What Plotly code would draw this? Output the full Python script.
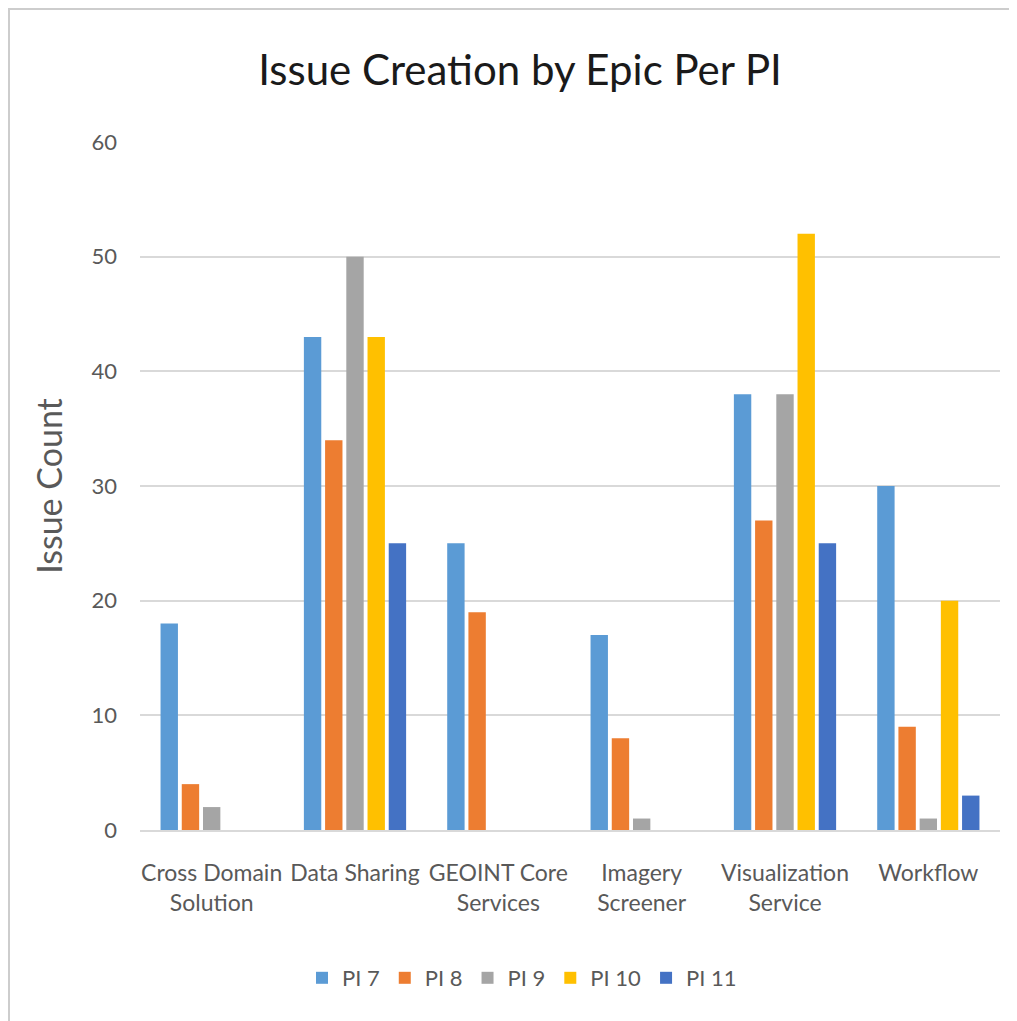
import plotly.graph_objects as go

categories = ["Cross Domain<br>Solution", "Data Sharing", "GEOINT Core<br>Services",
              "Imagery<br>Screener", "Visualization<br>Service", "Workflow"]
series_names = ["PI 7", "PI 8", "PI 9", "PI 10", "PI 11"]
pi7 = [18, 43, 25, 17, 38, 30]
pi8 = [4, 34, 19, 8, 27, 9]
pi9 = [2, 50, 0, 1, 38, 1]
pi10 = [0, 43, 0, 0, 52, 20]
pi11 = [0, 25, 0, 0, 25, 3]
series_values = [pi7, pi8, pi9, pi10, pi11]
colors = ["#5B9BD5", "#ED7D31", "#A5A5A5", "#FFC000", "#4472C4"]
y_ticks = [0, 10, 20, 30, 40, 50, 60]

# page is offset by the default 8px body margin
OFF = 8
W, H = 1017 - OFF, 1021 - OFF
L, T = 140 - OFF, 142 - OFF
R = W - (1000 - OFF)
B = H - (830 - OFF)
pw, ph = W - L - R, H - T - B

def px_x(p):  # page pixel -> paper x
    return (p - OFF - L) / pw

def px_y(p):  # page pixel -> paper y
    return 1 - (p - OFF - T) / ph

FONT = "Lato"

fig = go.Figure()
for name, vals, c in zip(series_names, series_values, colors):
    fig.add_trace(go.Bar(x=categories, y=vals, name=name, marker=dict(color=c, line=dict(width=0))))

fig.update_layout(
    width=W, height=H,
    margin=dict(l=L, r=R, t=T, b=B, autoexpand=False),
    paper_bgcolor="#FFFFFF",
    plot_bgcolor="rgba(0,0,0,0)",
    barmode="group", bargap=0.26, bargroupgap=0.18,
    font=dict(family=FONT, color="#595959"),
    title=dict(text="Issue Creation by Epic Per PI", x=(520 - OFF) / W, y=1 - (70 - OFF) / H,
               xref="container", yref="container", xanchor="center", yanchor="middle",
               font=dict(family=FONT, size=42, color="#1a1a1a")),
    xaxis=dict(showgrid=False, showline=True, linecolor="#D9D9D9", linewidth=1.5,
               tickfont=dict(size=23, color="#595959"), ticks="", ticklabelstandoff=22),
    yaxis=dict(range=[0, 60], tickvals=y_ticks, showgrid=True, gridcolor="#D9D9D9", gridwidth=1.5,
               zeroline=False, showline=False, tickfont=dict(size=22, color="#595959"),
               ticklabelstandoff=22,
               title=dict(text="Issue Count", font=dict(size=34, color="#595959"), standoff=18)),
    legend=dict(orientation="h", x=px_x(522), y=px_y(978), xanchor="center", yanchor="middle",
                font=dict(size=22, color="#595959"), bgcolor="rgba(0,0,0,0)",
                itemwidth=30, tracegroupgap=0),
    showlegend=True,
    shapes=[dict(type="rect", xref="paper", yref="paper", layer="below",
                 x0=(1 - L) / pw, x1=(W + 20 - L) / pw, y0=-(B + 20) / ph, y1=1 + (T - 1) / ph,
                 fillcolor="#FFFFFF", line=dict(color="#CDCDCD", width=2))],
)

fig.write_html("out.html")
